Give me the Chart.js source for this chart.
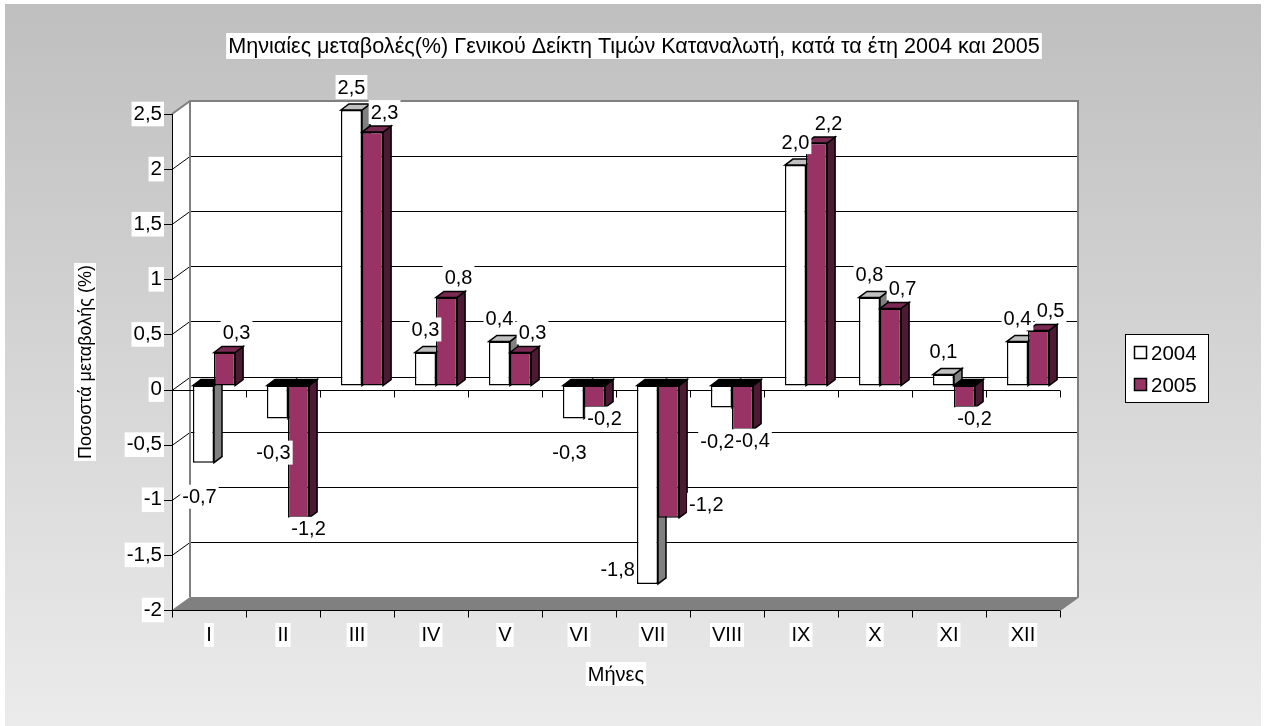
<!DOCTYPE html>
<html>
<head>
<meta charset="utf-8">
<script src="https://cdn.jsdelivr.net/npm/chart.js@4.4.1/dist/chart.umd.min.js"></script>
<style>
  html, body { margin: 0; padding: 0; background: #fff; }
  canvas { display: block; }
</style>
</head>
<body>
<canvas id="chart" width="1268" height="726"></canvas>
<script>
// data
const months = ["I", "II", "III", "IV", "V", "VI", "VII", "VIII", "IX", "X", "XI", "XII"];
const values2004 = [-0.7, -0.3, 2.5, 0.3, 0.4, -0.3, -1.8, -0.2, 2.0, 0.8, 0.1, 0.4];
const values2005 = [0.3, -1.2, 2.3, 0.8, 0.3, -0.2, -1.2, -0.4, 2.2, 0.7, -0.2, 0.5];
const seriesNames = ["2004", "2005"];
const yMin = -2, yMax = 2.5, yStep = 0.5;

const chartTitle = "Μηνιαίες μεταβολές(%) Γενικού Δείκτη Τιμών Καταναλωτή, κατά τα έτη 2004 και 2005";
const xTitle = "Μήνες";
const yTitle = "Ποσοστά μεταβολής (%)";

const FONT = '"Liberation Sans", Arial, sans-serif';
const BACK = { x: 18, y: -13 };      // depth of the back wall
const SHIFT = { x: 5, y: -4 };       // where the bars sit in depth
const BAR_DEPTH = { x: 8, y: -6 };   // thickness of each bar

const fills = ["#ffffff", "#993366"];
const sides = ["#808080", "#4d1a33"];
const tops = ["#c0c0c0", "#7a2952"];

const fmt = v => String(v).replace(".", ",");

function poly(ctx, pts) {
  ctx.beginPath();
  ctx.moveTo(pts[0][0], pts[0][1]);
  for (let i = 1; i < pts.length; i++) ctx.lineTo(pts[i][0], pts[i][1]);
  ctx.closePath();
}

function textBox(ctx, text, x, y, align, size) {
  size = size || 20;
  ctx.font = size + "px " + FONT;
  const w = ctx.measureText(text).width;
  const left = align === "right" ? x - w : align === "left" ? x : x - w / 2;
  const h = Math.round(size * 1.2);
  ctx.fillStyle = "#fff";
  ctx.fillRect(left - 2, y - h / 2, w + 4, h);
  ctx.fillStyle = "#000";
  ctx.textAlign = "left";
  ctx.textBaseline = "middle";
  ctx.fillText(text, left, y + 1);
}

const bars3d = {
  id: "bars3d",
  beforeDraw(chart) {
    const ctx = chart.ctx;
    const g = ctx.createLinearGradient(0, 4, 0, 726);
    g.addColorStop(0, "#bfbfbf");
    g.addColorStop(1, "#ebebeb");
    ctx.save();
    ctx.fillStyle = g;
    ctx.fillRect(5, 4, 1256, 722);
    ctx.restore();
  },
  beforeDatasetsDraw(chart) {
    const ctx = chart.ctx;
    const { left, right, top, bottom } = chart.chartArea;
    const ys = chart.scales.y;
    ctx.save();
    // side wall and back wall
    ctx.fillStyle = "#fff";
    poly(ctx, [[left, top], [left + BACK.x, top + BACK.y], [left + BACK.x, bottom + BACK.y], [left, bottom]]);
    ctx.fill();
    ctx.fillRect(left + BACK.x, top + BACK.y, right - left, bottom - top);
    // floor
    ctx.fillStyle = "#808080";
    poly(ctx, [[left, bottom], [right, bottom], [right + BACK.x, bottom + BACK.y], [left + BACK.x, bottom + BACK.y]]);
    ctx.fill();
    // gridlines
    ctx.strokeStyle = "#000";
    ctx.lineWidth = 1;
    ys.ticks.forEach(t => {
      if (t.value === yMin || t.value === yMax) return;
      const py = Math.round(ys.getPixelForValue(t.value)) + 0.5;
      ctx.beginPath();
      ctx.moveTo(left, py);
      ctx.lineTo(left + BACK.x, py + BACK.y);
      ctx.lineTo(right + BACK.x, py + BACK.y);
      ctx.stroke();
    });
    // wall edges
    ctx.strokeStyle = "#808080";
    ctx.lineWidth = 2;
    ctx.beginPath();
    ctx.moveTo(left, top);
    ctx.lineTo(left + BACK.x, top + BACK.y);
    ctx.lineTo(right + BACK.x, top + BACK.y);
    ctx.lineTo(right + BACK.x, bottom + BACK.y);
    ctx.lineTo(right, bottom);
    ctx.moveTo(left + BACK.x, top + BACK.y);
    ctx.lineTo(left + BACK.x, bottom + BACK.y);
    ctx.stroke();
    // front axes
    ctx.strokeStyle = "#000";
    ctx.lineWidth = 1;
    ctx.beginPath();
    ctx.moveTo(left + 0.5, top);
    ctx.lineTo(left + 0.5, bottom);
    ys.ticks.forEach(t => {
      const py = Math.round(ys.getPixelForValue(t.value)) + 0.5;
      ctx.moveTo(left - 8, py);
      ctx.lineTo(left, py);
    });
    const zeroY = Math.round(ys.getPixelForValue(0)) + 0.5;
    const bottomY = Math.round(bottom) + 0.5;
    [zeroY, bottomY].forEach(py => {
      ctx.moveTo(left, py);
      ctx.lineTo(right, py);
      for (let i = 0; i <= months.length; i++) {
        const px = Math.round(left + (right - left) * i / months.length) + 0.5;
        ctx.moveTo(px, py);
        ctx.lineTo(px, py + 7);
      }
    });
    ctx.stroke();
    ctx.restore();
  },
  beforeDatasetDraw() {
    return false; // drawn below, category by category
  },
  afterDatasetsDraw(chart) {
    const ctx = chart.ctx;
    const metas = [chart.getDatasetMeta(0), chart.getDatasetMeta(1)];
    ctx.save();
    ctx.translate(SHIFT.x, SHIFT.y);
    ctx.lineJoin = "miter";
    for (let i = 0; i < months.length; i++) {
      metas.forEach((meta, d) => {
        const el = meta.data[i];
        const p = el.getProps(["x", "y", "base", "width"], true);
        const L = p.x - p.width / 2, R = p.x + p.width / 2;
        const T = Math.min(p.y, p.base), B = Math.max(p.y, p.base);
        const neg = p.y > p.base;
        ctx.strokeStyle = "#000";
        ctx.lineWidth = 1.5;
        ctx.fillStyle = sides[d];
        poly(ctx, [[R, T], [R + BAR_DEPTH.x, T + BAR_DEPTH.y], [R + BAR_DEPTH.x, B + BAR_DEPTH.y], [R, B]]);
        ctx.fill(); ctx.stroke();
        ctx.fillStyle = neg ? "#000" : tops[d];
        poly(ctx, [[L, T], [L + BAR_DEPTH.x, T + BAR_DEPTH.y], [R + BAR_DEPTH.x, T + BAR_DEPTH.y], [R, T]]);
        ctx.fill(); ctx.stroke();
        el.draw(ctx);
      });
    }
    ctx.restore();

    // data labels
    const floorTop = chart.chartArea.bottom + BACK.y;
    const series = [values2004, values2005];
    ctx.save();
    metas.forEach((meta, d) => {
      meta.data.forEach((el, i) => {
        const v = series[d][i];
        const other = series[1 - d][i];
        const p = el.getProps(["x", "y", "width"], true);
        const cx = p.x + SHIFT.x, endY = p.y + SHIFT.y;
        const txt = v.toFixed(1).replace(".", ",");
        if (v >= 0) {
          if (d === 0) textBox(ctx, txt, cx, endY - 23, "center");
          else textBox(ctx, txt, cx + 12, endY - 20, "center");
        } else if (d === 0) {
          if (endY + 34 > floorTop - 6) textBox(ctx, txt, cx - p.width / 2 - 2, endY - 14, "right");
          else textBox(ctx, txt, cx - 4, endY + 34, "center");
        } else {
          if (other < v - 0.5) textBox(ctx, txt, cx + p.width / 2 + 10, endY - 13, "left");
          else textBox(ctx, txt, cx + 10, endY + 11, "center");
        }
      });
    });
    ctx.restore();
  },
  afterDraw(chart) {
    const ctx = chart.ctx;
    const { left, right, top, bottom } = chart.chartArea;
    ctx.save();
    textBox(ctx, chartTitle, chart.width / 2, 46, "center", 21.6);
    textBox(ctx, xTitle, (left + right) / 2, 674, "center", 20);
    ctx.translate(85, (top + bottom) / 2);
    ctx.rotate(-Math.PI / 2);
    textBox(ctx, yTitle, 0, 0, "center", 18);
    ctx.restore();

    // legend
    ctx.save();
    ctx.fillStyle = "#fff";
    ctx.fillRect(1125.5, 334.5, 83, 68);
    ctx.strokeStyle = "#000";
    ctx.lineWidth = 1;
    ctx.strokeRect(1125.5, 334.5, 83, 68);
    chart.data.datasets.forEach((ds, d) => {
      const cy = 353 + d * 32;
      ctx.fillStyle = ds.backgroundColor;
      ctx.fillRect(1134.5, cy - 6.5, 12, 12);
      ctx.lineWidth = 1.5;
      ctx.strokeRect(1134.5, cy - 6.5, 12, 12);
      ctx.fillStyle = "#000";
      ctx.font = "20.5px " + FONT;
      ctx.textAlign = "left";
      ctx.textBaseline = "middle";
      ctx.fillText(ds.label, 1151, cy + 1);
    });
    ctx.restore();
  }
};

new Chart(document.getElementById("chart"), {
  type: "bar",
  data: {
    labels: months,
    datasets: [
      { label: seriesNames[0], data: values2004, backgroundColor: fills[0] },
      { label: seriesNames[1], data: values2005, backgroundColor: fills[1] }
    ]
  },
  options: {
    responsive: false,
    animation: false,
    layout: { padding: { top: 114, right: 208, left: 0, bottom: 0 } },
    datasets: {
      bar: {
        categoryPercentage: 0.57,
        barPercentage: 1,
        borderColor: "#000",
        borderWidth: 1.5,
        borderSkipped: false
      }
    },
    plugins: {
      legend: { display: false },
      title: { display: false },
      tooltip: { enabled: false }
    },
    scales: {
      x: {
        grid: { display: false, drawTicks: false },
        border: { display: false },
        ticks: {
          color: "#000",
          font: { family: FONT, size: 20 },
          padding: 13,
          showLabelBackdrop: true,
          backdropColor: "#fff",
          backdropPadding: { x: 2, y: 0 },
          maxRotation: 0
        },
        afterFit(scale) { scale.height = 116; }
      },
      y: {
        min: yMin,
        max: yMax,
        grid: { display: false, drawTicks: false },
        border: { display: false },
        ticks: {
          stepSize: yStep,
          color: "#000",
          font: { family: FONT, size: 20.5 },
          padding: 10,
          showLabelBackdrop: true,
          backdropColor: "#fff",
          backdropPadding: { x: 2, y: 0 },
          callback: v => fmt(v)
        },
        afterFit(scale) { scale.width = 172; }
      }
    }
  },
  plugins: [bars3d]
});
</script>
</body>
</html>
